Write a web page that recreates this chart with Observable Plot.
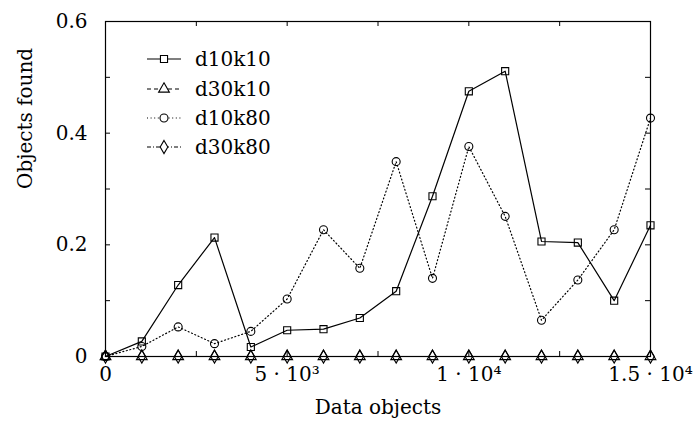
<!DOCTYPE html>
<html>
<head>
<meta charset="utf-8">
<script src="https://cdn.jsdelivr.net/npm/d3@7"></script>
<script src="https://cdn.jsdelivr.net/npm/@observablehq/plot@0.6"></script>
<style>
  body { margin: 0; background: #fff; }
  #chart svg { display: block; }
</style>
</head>
<body>
<div id="chart"></div>
<script>
// Number of data objects per run
const dataObjects = [0, 1000, 2000, 3000, 4000, 5000, 6000, 7000, 8000, 9000, 10000, 11000, 12000, 13000, 14000, 15000];

// Fraction of objects found for each configuration
const d10k10 = [0, 0.027, 0.128, 0.213, 0.017, 0.047, 0.049, 0.069, 0.117, 0.287, 0.475, 0.511, 0.206, 0.204, 0.100, 0.235];
const d30k10 = [0, 0, 0, 0, 0, 0, 0, 0, 0, 0, 0, 0, 0, 0, 0, 0];
const d10k80 = [0, 0.018, 0.053, 0.023, 0.045, 0.103, 0.227, 0.158, 0.349, 0.140, 0.376, 0.251, 0.065, 0.137, 0.227, 0.427];
const d30k80 = [0, 0, 0, 0, 0, 0, 0, 0, 0, 0, 0, 0, 0, 0, 0, 0];

const seriesNames = ["d10k10", "d30k10", "d10k80", "d30k80"];
const seriesValues = [d10k10, d30k10, d10k80, d30k80];

// Axis ticks and labels
const xTickValues = [0, 5000, 10000, 15000];
const xTickLabels = ["0", "5 · 10³", "1 · 10⁴", "1.5 · 10⁴"];
const xMinorTicks = [0, 2500, 5000, 7500, 10000, 12500, 15000];
const yTickValues = [0, 0.2, 0.4, 0.6];
const yTickLabels = ["0", "0.2", "0.4", "0.6"];
const yMinorTicks = [0, 0.1, 0.2, 0.3, 0.4, 0.5, 0.6];

// Line and point style per series
const styles = {
  d10k10: {dash: null, symbol: "square"},
  d30k10: {dash: "4,3", symbol: "triangle"},
  d10k80: {dash: "1,2.6", symbol: "circle"},
  d30k80: {dash: "4,2,1,2", symbol: "diamond"}
};

const rows = seriesNames.flatMap((name, i) =>
  dataObjects.map((x, j) => ({series: name, x, y: seriesValues[i][j]}))
);

const W = 694, H = 441;
const mL = 105, mR = 44, mT = 21, mB = 85;
const innerW = W - mL - mR, innerH = H - mT - mB;
const tickLen = 5;
const font = "DejaVu Serif";
const fontSize = 20;
const markR = 4;

const seriesMarks = seriesNames.flatMap(name => {
  const data = rows.filter(d => d.series === name);
  const s = styles[name];
  return [
    Plot.line(data, {x: "x", y: "y", stroke: "black", strokeWidth: 1.2, strokeDasharray: s.dash}),
    Plot.dot(data, {x: "x", y: "y", symbol: () => s.symbol, r: markR, stroke: "black", strokeWidth: 1.1, fill: "none"})
  ];
});

const chart = Plot.plot({
  width: W,
  height: H,
  marginLeft: mL,
  marginRight: mR,
  marginTop: mT,
  marginBottom: mB,
  style: {fontFamily: font, fontSize: fontSize + "px", background: "#fff", color: "black"},
  x: {domain: [0, 15000]},
  y: {domain: [0, 0.6]},
  symbol: {type: "identity"},
  marks: [
    // inward ticks on all four sides
    Plot.tickX(xMinorTicks, {x: d => d, stroke: "black", insetTop: innerH - tickLen}),
    Plot.tickX(xMinorTicks, {x: d => d, stroke: "black", insetBottom: innerH - tickLen}),
    Plot.tickY(yMinorTicks, {y: d => d, stroke: "black", insetRight: innerW - tickLen}),
    Plot.tickY(yMinorTicks, {y: d => d, stroke: "black", insetLeft: innerW - tickLen}),
    Plot.axisX({ticks: xTickValues, tickSize: 0, tickPadding: 10, fontSize, tickFormat: d => xTickLabels[xTickValues.indexOf(d)], label: null}),
    Plot.axisY({ticks: yTickValues, tickSize: 0, tickPadding: 18, fontSize, tickFormat: d => yTickLabels[yTickValues.findIndex(v => Math.abs(v - d) < 1e-9)], label: null}),
    ...seriesMarks,
    Plot.frame({stroke: "black", strokeWidth: 1.2}),
    Plot.text(["Data objects"], {frameAnchor: "bottom", dy: 57, text: d => d, fontSize, fill: "black"}),
    Plot.text(["Objects found"], {frameAnchor: "left", dx: -80, rotate: -90, text: d => d, fontSize, fill: "black"})
  ]
});

document.getElementById("chart").appendChild(chart);

// Legend in the upper-left corner of the plot area
const svg = d3.select(chart);
const legend = svg.append("g")
  .attr("font-family", font)
  .attr("font-size", fontSize)
  .attr("text-anchor", "start");
const legendRowY = [59, 89, 118, 147];
const symbolTypes = {square: d3.symbolSquare, triangle: d3.symbolTriangle, circle: d3.symbolCircle, diamond: d3.symbolDiamond};
seriesNames.forEach((name, i) => {
  const s = styles[name];
  const y = legendRowY[i];
  legend.append("line")
    .attr("x1", 147).attr("x2", 181).attr("y1", y).attr("y2", y)
    .attr("stroke", "black").attr("stroke-width", 1.2)
    .attr("stroke-dasharray", s.dash);
  legend.append("path")
    .attr("transform", `translate(164,${y})`)
    .attr("d", d3.symbol(symbolTypes[s.symbol], Math.PI * markR * markR)())
    .attr("fill", "white").attr("stroke", "black").attr("stroke-width", 1.1);
  legend.append("text")
    .attr("x", 195).attr("y", y).attr("dy", "0.35em")
    .attr("fill", "black")
    .text(name);
});
</script>
</body>
</html>
